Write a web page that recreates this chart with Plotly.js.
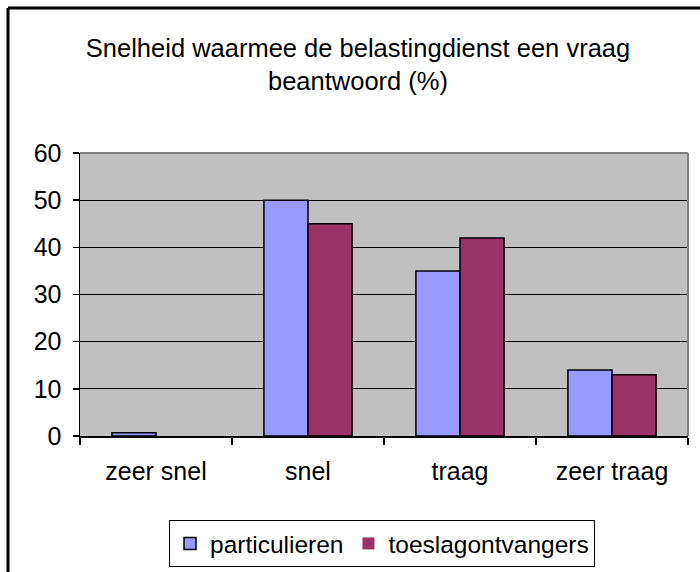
<!DOCTYPE html>
<html><head><meta charset="utf-8">
<script src="https://cdn.plot.ly/plotly-3.0.1.min.js"></script>
<style>html,body{margin:0;padding:0;background:#fff}#chart{width:700px;height:572px}</style>
</head><body><div id="chart"></div>
<script>
const categories = ["zeer snel", "snel", "traag", "zeer traag"];
const particulieren = [0.7, 50, 35, 14];
const toeslagontvangers = [0, 45, 42, 13];
const yTicks = [0, 10, 20, 30, 40, 50, 60];

const L = 80, R = 12, T = 153, B = 136;
const W = 700 - L - R, H = 572 - T - B;
const px = x => (x - L) / W;
const py = y => (572 - B - y) / H;

const font = {family: "Liberation Sans, Arial, sans-serif", color: "#000"};
const edge = vals => vals.map(v => (v > 0 ? 1.5 : 0));

const traces = [
  {type: "bar", name: "particulieren", x: categories, y: particulieren,
   marker: {color: "#9999FF", line: {color: "#000", width: edge(particulieren)}}},
  {type: "bar", name: "toeslagontvangers", x: categories, y: toeslagontvangers,
   marker: {color: "#993366", line: {color: "#000", width: edge(toeslagontvangers)}}}
];

const layout = {
  width: 700, height: 572,
  margin: {l: L, r: R, t: T, b: B, pad: 0, autoexpand: false},
  paper_bgcolor: "#fff", plot_bgcolor: "#C0C0C0",
  font: Object.assign({size: 25}, font),
  title: {text: "Snelheid waarmee de belastingdienst een vraag<br>beantwoord (%)",
    font: Object.assign({size: 25.5}, font), x: 358/700, xanchor: "center",
    y: 1 - 57/572, yanchor: "middle", xref: "container", yref: "container"},
  barmode: "group", bargap: 0.42, bargroupgap: 0,
  showlegend: true,
  legend: {orientation: "h", x: px(382), xanchor: "center", y: py(520), yanchor: "top",
    bordercolor: "#000", borderwidth: 1, bgcolor: "#fff", itemwidth: 30,
    font: Object.assign({size: 24.5}, font), traceorder: "normal"},
  xaxis: {type: "category", showgrid: false, showline: true, linecolor: "#000", linewidth: 1.5,
    ticks: "outside", tickson: "boundaries", ticklen: 7, tickcolor: "#000", tickwidth: 1.5,
    ticklabelstandoff: 12, zeroline: false, fixedrange: true, automargin: false},
  yaxis: {range: [0, 60], tickvals: yTicks, showgrid: true, gridcolor: "#000", gridwidth: 1,
    showline: true, linecolor: "#000", linewidth: 1.5, ticks: "outside", ticklen: 6,
    tickcolor: "#000", tickwidth: 1.5, zeroline: false, ticklabelstandoff: 6, fixedrange: true,
    automargin: false},
  shapes: [
    {type: "line", xref: "paper", yref: "paper", x0: 0, x1: 1, y0: 1, y1: 1, line: {color: "#808080", width: 2}},
    {type: "line", xref: "paper", yref: "paper", x0: 1, x1: 1, y0: 0, y1: 1, line: {color: "#808080", width: 2}},
    {type: "line", xref: "paper", yref: "paper", x0: px(8), x1: px(710), y0: py(8), y1: py(8), line: {color: "#000", width: 3}},
    {type: "line", xref: "paper", yref: "paper", x0: px(8), x1: px(8), y0: py(8), y1: py(600), line: {color: "#000", width: 3}}
  ]
};

Plotly.newPlot("chart", traces, layout, {displayModeBar: false, staticPlot: true});
</script></body></html>
